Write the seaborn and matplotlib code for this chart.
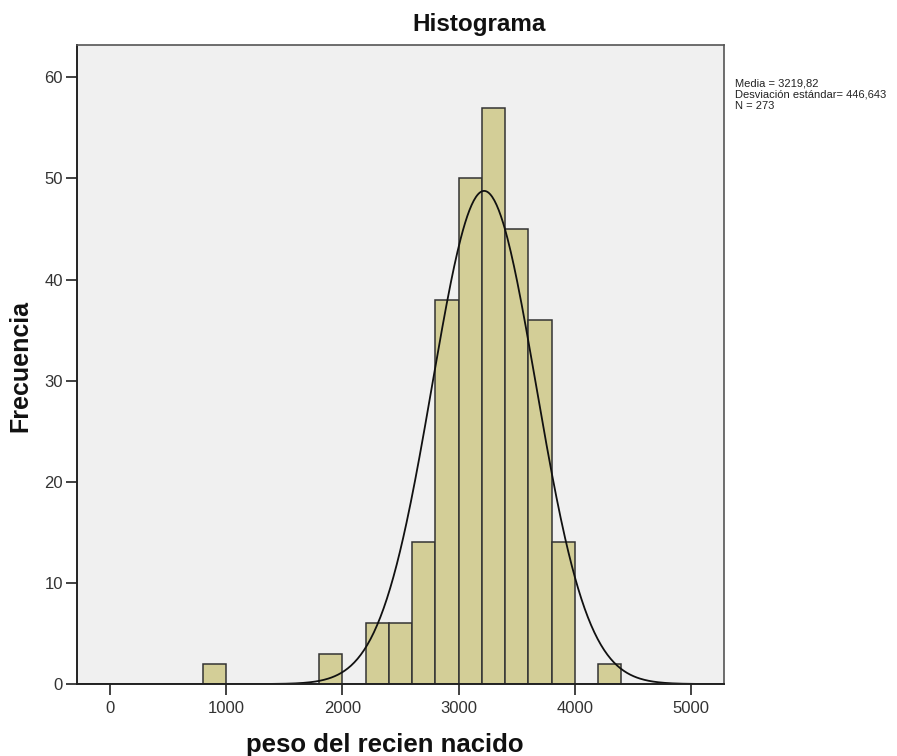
import numpy as np
import pandas as pd
import matplotlib
matplotlib.use("Agg")
import matplotlib.pyplot as plt
import seaborn as sns

# histogram bins (width 200) and counts
bin_edges = list(range(800, 4600, 200))
counts = [2, 0, 0, 0, 0, 3, 0, 6, 6, 14, 38, 50, 57, 45, 36, 14, 0, 2]
media = 3219.82
desv = 446.643
n = 273

centers = [e + 100 for e in bin_edges[:-1]]
df = pd.DataFrame({"peso": centers, "freq": counts})

sns.set_style("white")
plt.rcParams["font.family"] = ["Arial", "Liberation Sans", "DejaVu Sans"]

fig = plt.figure(figsize=(8.97, 7.56), dpi=100)
ax = fig.add_axes([0.0858, 0.0952, 0.7213, 0.8453])
ax.set_facecolor("#F0F0F0")

sns.histplot(data=df, x="peso", weights="freq", bins=bin_edges, ax=ax,
             color="#D3CE97", edgecolor="#333333", linewidth=1.1, alpha=1)

xs = np.linspace(-300, 5300, 600)
ys = n * 200 / (desv * np.sqrt(2 * np.pi)) * np.exp(-0.5 * ((xs - media) / desv) ** 2)
ax.plot(xs, ys, color="#111111", linewidth=1.3)

ax.set_xlim(-284, 5284)
ax.set_ylim(0, 63.2)
ax.set_xticks([0, 1000, 2000, 3000, 4000, 5000])
ax.set_yticks([0, 10, 20, 30, 40, 50, 60])
ax.tick_params(axis="both", direction="out", length=8, width=1.3, labelsize=12,
               colors="#333333", bottom=True, left=True, pad=2)
ax.tick_params(axis="x", pad=4)
for side in ["top", "right"]:
    ax.spines[side].set_color("#555555")
    ax.spines[side].set_linewidth(1.2)
for side in ["left", "bottom"]:
    ax.spines[side].set_color("#222222")
    ax.spines[side].set_linewidth(1.4)

fig.text(479 / 897, 1 - 24 / 756, "Histograma", fontsize=17.5, fontweight="bold",
         ha="center", va="center", color="#111111")
fig.text(385 / 897, 1 - 745 / 756, "peso del recien nacido", fontsize=18.5,
         fontweight="bold", ha="center", va="center", color="#111111")
fig.text(20 / 897, 1 - 366 / 756, "Frecuencia", fontsize=18, fontweight="bold",
         rotation=90, ha="center", va="center", color="#111111")
ax.set_xlabel("")
ax.set_ylabel("")

fig.text(735 / 897, 1 - 79 / 756, "Media = 3219,82\nDesviación estándar= 446,643\nN = 273",
         fontsize=8, va="top", ha="left", linespacing=1.12, color="#222222")

fig.savefig("out.png", dpi=100)
